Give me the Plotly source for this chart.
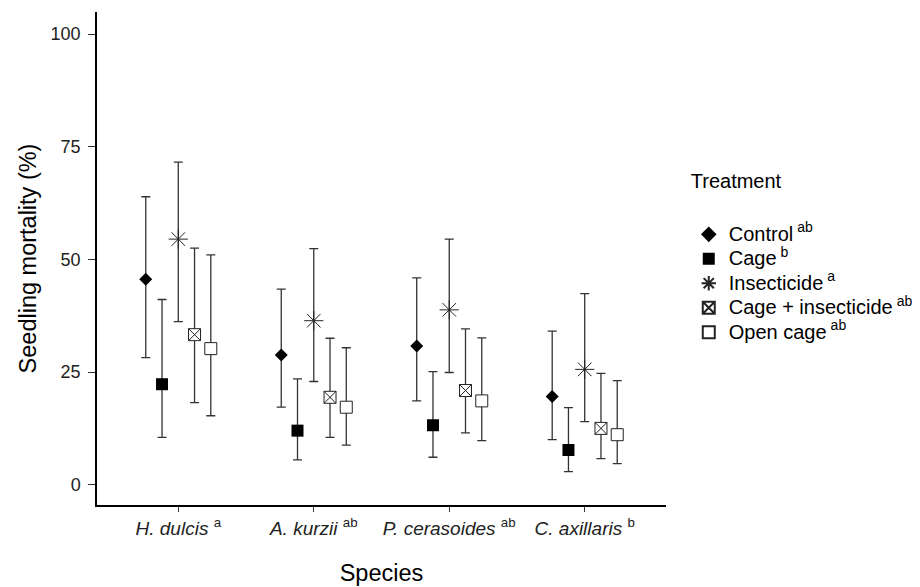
import plotly.graph_objects as go

species = ["H. dulcis", "A. kurzii", "P. cerasoides", "C. axillaris"]
species_letters = ["a", "ab", "ab", "b"]
treatments = ["Control", "Cage", "Insecticide", "Cage + insecticide", "Open cage"]
treatment_letters = ["ab", "b", "a", "ab", "ab"]

# mean mortality (%) per treatment, in species order
control_mean = [45.6, 28.8, 30.8, 19.6]
control_hi = [63.9, 43.4, 45.9, 34.1]
control_lo = [28.2, 17.2, 18.6, 10.0]

cage_mean = [22.3, 12.0, 13.2, 7.7]
cage_hi = [41.1, 23.5, 25.1, 17.1]
cage_lo = [10.5, 5.5, 6.1, 2.9]

insect_mean = [54.5, 36.4, 38.8, 25.6]
insect_hi = [71.6, 52.4, 54.5, 42.4]
insect_lo = [36.2, 22.9, 24.9, 14.0]

cageins_mean = [33.3, 19.4, 20.9, 12.5]
cageins_hi = [52.5, 32.5, 34.6, 24.7]
cageins_lo = [18.2, 10.5, 11.5, 5.8]

open_mean = [30.2, 17.2, 18.6, 11.1]
open_hi = [51.0, 30.4, 32.6, 23.1]
open_lo = [15.3, 8.8, 9.8, 4.7]

y_ticks = [0, 25, 50, 75, 100]

series = [
    (control_mean, control_hi, control_lo),
    (cage_mean, cage_hi, cage_lo),
    (insect_mean, insect_hi, insect_lo),
    (cageins_mean, cageins_hi, cageins_lo),
    (open_mean, open_hi, open_lo),
]
styles = [
    dict(symbol="diamond", size=10, color="black", line=dict(color="black", width=0)),
    dict(symbol="square", size=12, color="black", line=dict(color="black", width=0)),
    dict(symbol="asterisk-open", size=16, color="#222", line=dict(color="#222", width=1)),
    dict(symbol="square-x", size=12, color="white", line=dict(color="#222", width=1)),
    dict(symbol="square", size=12, color="white", line=dict(color="#222", width=1)),
]
dodge = 0.12
font_family = "Liberation Sans, Arial, sans-serif"

fig = go.Figure()
for i, (name, letter, (m, hi, lo), st) in enumerate(zip(treatments, treatment_letters, series, styles)):
    off = (i - 2) * dodge
    xs = [k + 1 + off for k in range(len(species))]
    fig.add_trace(go.Scatter(
        x=xs, y=m, mode="markers",
        name=f"<span style='font-size:20px'>{name}\u2009<sup>{letter}</sup></span>",
        marker=st,
        error_y=dict(type="data", symmetric=False,
                     array=[h - v for h, v in zip(hi, m)],
                     arrayminus=[v - l for v, l in zip(m, lo)],
                     color="#333", thickness=1.3, width=4.5),
    ))

# the page body has an 8px default margin, so the figure is sized to fit the window
fig.update_layout(
    width=912, height=579,
    margin=dict(l=89, r=254, t=4, b=82, autoexpand=False),
    plot_bgcolor="white", paper_bgcolor="white",
    font=dict(family=font_family, size=18, color="black"),
    legend=dict(
        title=dict(text="<span style='font-size:20px'>Treatment</span><br> ",
                   font=dict(size=22, color="black")),
        x=1.04, xanchor="left", y=0.70, yanchor="top",
        font=dict(size=16.5, color="black"),
        tracegroupgap=0, itemsizing="constant",
    ),
    xaxis=dict(
        range=[0.4, 4.6], automargin=False,
        tickvals=[1, 2, 3, 4],
        ticktext=[f"<i>{s}</i> <sup>{l}</sup>" for s, l in zip(species, species_letters)],
        showline=True, linecolor="black", linewidth=1.5,
        ticks="outside", ticklen=5, tickcolor="#333", tickwidth=1.2,
        showgrid=False, zeroline=False,
        tickfont=dict(size=19, color="#222"),
        title=dict(text="Species", font=dict(size=23.5, color="black"), standoff=27),
    ),
    yaxis=dict(
        range=[-4.5, 104.9], automargin=False,
        tickvals=y_ticks,
        showline=True, linecolor="black", linewidth=1.5,
        ticks="outside", ticklen=7, tickcolor="#333", tickwidth=1.2,
        ticklabelstandoff=4,
        showgrid=False, zeroline=False,
        tickfont=dict(size=18, color="#222"),
        title=dict(text="Seedling mortality (%)", font=dict(size=23.5, color="black"), standoff=7),
    ),
)

fig.write_html("out.html")
